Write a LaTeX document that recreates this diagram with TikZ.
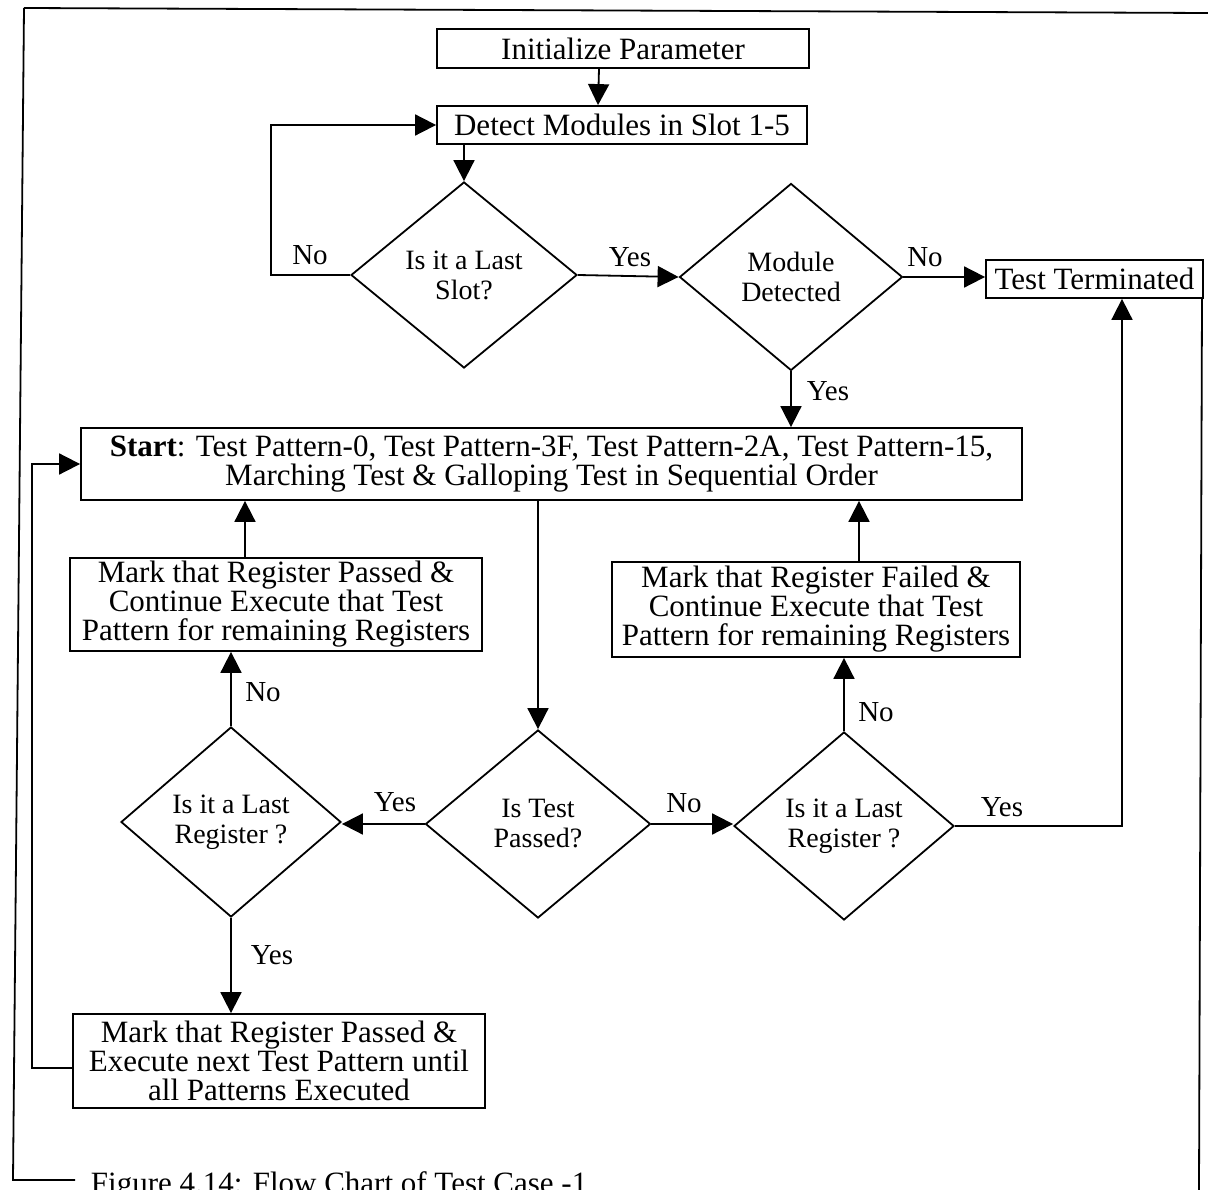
\documentclass[tikz,border=0pt]{standalone}
\usepackage{fontspec}
\setmainfont{Liberation Serif}
\usetikzlibrary{arrows.meta,shapes.geometric}
\begin{document}
\begin{tikzpicture}[x=1pt,y=-1pt,
  line width=1.8pt,
  box/.style={draw, rectangle, inner sep=0pt, align=center,
    font=\fontsize{31}{29}\selectfont},
  decision/.style={draw, diamond, inner sep=0pt, align=center,
    font=\fontsize{28}{30}\selectfont},
  lbl/.style={inner sep=0pt, font=\fontsize{29}{30}\selectfont},
  arr/.style={-{Triangle[length=21pt,width=21pt]}}
]
\clip (0,0) rectangle (1208,1190);

% outer frame
\draw (24,8) -- (1208,13);
\draw (24,8) -- (13,1180) -- (75,1180);
\draw (1202,298) -- (1199,1190);

% process boxes
\node[box, minimum width=372pt, minimum height=39pt] (init) at (623,48.5) {Initialize Parameter};
\node[box, minimum width=370pt, minimum height=38pt] (detect) at (622,125) {Detect Modules in Slot 1-5};
\node[box, minimum width=217pt, minimum height=38pt] (term) at (1094.5,279) {Test Terminated};
\node[box, minimum width=941pt, minimum height=72pt] (start) at (551.5,464)
  {\textbf{Start}: Test Pattern-0, Test Pattern-3F, Test Pattern-2A, Test Pattern-15,\\
   Marching Test \& Galloping Test in Sequential Order};
\node[box, minimum width=412pt, minimum height=93pt] (pass) at (276,604.5)
  {Mark that Register Passed \&\\Continue Execute that Test\\Pattern for remaining Registers};
\node[box, minimum width=408pt, minimum height=95pt] (fail) at (816,609.5)
  {Mark that Register Failed \&\\Continue Execute that Test\\Pattern for remaining Registers};
\node[box, minimum width=412pt, minimum height=94pt] (next) at (279,1061)
  {Mark that Register Passed \&\\Execute next Test Pattern until\\all Patterns Executed};

% decisions
\node[decision, minimum width=226pt, minimum height=186pt] (d1) at (464,275) {Is it a Last\\Slot?};
\node[decision, minimum width=223pt, minimum height=187pt] (d2) at (791,277) {Module\\Detected};
\node[decision, minimum width=225pt, minimum height=188pt] (dp) at (538,824) {Is Test\\Passed?};
\node[decision, minimum width=220pt, minimum height=190pt] (dl) at (231,822) {Is it a Last\\Register ?};
\node[decision, minimum width=220pt, minimum height=188pt] (dr) at (844,826) {Is it a Last\\Register ?};

% connectors
\draw[arr] ([xshift=-24pt]init.south) -- ([xshift=-24pt]detect.north);
\draw[arr] (d1.north |- detect.south) -- (d1.north);
\draw[arr] (d1.west) -- ++(-79,0) |- (detect.west);
\draw[arr] (d1.east) -- (d2.west);
\draw[arr] (d2.east) -- (d2.east -| term.west);
\draw[arr] (d2.south) -- (d2.south |- start.north);
\draw[arr] (dp.north |- start.south) -- (dp.north);
\draw[arr] (dp.west) -- (dp.west -| dl.east);
\draw[arr] (dp.east) -- (dp.east -| dr.west);
\draw[arr] (dl.north) -- (dl.north |- pass.south);
\draw[arr] ([xshift=-31pt]pass.north) -- ([xshift=-31pt]pass.north |- start.south);
\draw[arr] (dl.south) -- (dl.south |- next.north);
\draw[arr] ([yshift=-7pt]next.west) -- ++(-40,0) |- (start.west);
\draw[arr] (dr.north) -- (dr.north |- fail.south);
\draw[arr] ([xshift=43pt]fail.north) -- ([xshift=43pt]fail.north |- start.south);
\draw[arr] (dr.east) -| ([xshift=27.5pt]term.south);

% branch labels
\node[lbl] (n1) at (310,255) {No};
\node[lbl] (y1) at (630,257) {Yes};
\node[lbl] (n2) at (925,257) {No};
\node[lbl] (y2) at (828,391) {Yes};
\node[lbl] (y3) at (395,802) {Yes};
\node[lbl] (n3) at (263,692) {No};
\node[lbl] (n4) at (684,803) {No};
\node[lbl] (n5) at (876,712) {No};
\node[lbl] (y4) at (1002,807) {Yes};
\node[lbl] (y5) at (272,955) {Yes};

% caption, running off the lower edge
\node[anchor=base west, inner sep=0pt, font=\fontsize{31}{31}\selectfont] (cap) at (90,1193)
  {Figure 4.14: Flow Chart of Test Case -1};
\end{tikzpicture}
\end{document}
